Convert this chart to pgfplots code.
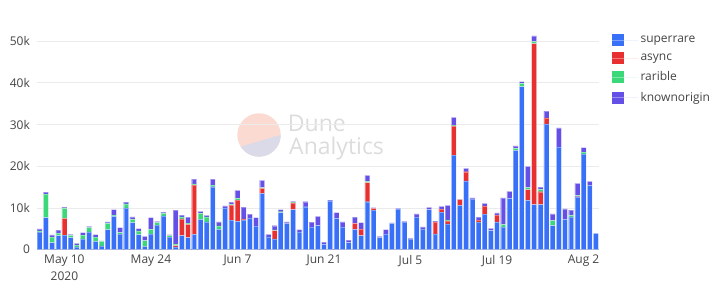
\documentclass[border=0pt]{standalone}
\usepackage{pgfplots}
\pgfplotsset{compat=1.18}
\usepackage{pgfplotstable}
\usepackage{fontspec}
\setmainfont{Open Sans}
\definecolor{csr}{HTML}{3870F8}
\definecolor{cas}{HTML}{E83030}
\definecolor{cra}{HTML}{3BD87A}
\definecolor{cko}{HTML}{6450E6}
\definecolor{tgray}{HTML}{444444}
\definecolor{ggray}{HTML}{EBEBEB}
\definecolor{wmpink}{HTML}{FBDAD2}
\definecolor{wmlav}{HTML}{DADAE8}
\definecolor{wmtext}{HTML}{DCDCDC}
\pgfplotstableread{
idx S A R K
0 4.2 0 0.3 0.5
1 7.7 0 5.6 0.5
2 1.7 0 1.3 0.55
3 3.4 0 0.6 0.7
4 3.5 4.0 2.4 0.3
5 2.9 0 0.55 0.25
6 0.7 0 0.4 0.4
7 2.6 0 0.9 0.6
8 4.3 0 1.0 0.3
9 2.0 0 1.0 0.6
10 0.9 0 1.1 0.1
11 4.8 0 1.5 0.4
12 8.0 0 0.3 1.3
13 3.8 0 0.3 1.2
14 10.0 0 1.0 0.4
15 6.5 0 0.8 0.55
16 3.6 0 0.9 0.55
17 0.8 0 1.4 1.0
18 3.8 0 1.1 2.8
19 5.9 0 0.6 0.3
20 8.1 0 0.6 0.3
21 3.0 0 0.4 0.2
22 0.7 0.3 0.4 8.1
23 3.4 4.0 0.5 0.4
24 2.9 3.2 0.3 1.4
25 3.7 11.8 0.3 1.1
26 7.3 0 1.4 0.5
27 6.7 0 1.2 0.3
28 15.1 0 0.4 1.4
29 4.9 0 0.8 1.0
30 10.0 0 0 0.5
31 7.1 3.6 0.15 0.55
32 6.8 5.1 0.4 1.9
33 7.1 0.3 0 2.8
34 7.6 0 0 0.9
35 5.7 0 0 2.0
36 13.5 1.2 0.2 1.7
37 3.1 0 0 0.6
38 2.6 2.0 0.15 1.0
39 8.9 0 0.2 0.5
40 6.3 0 0 0.4
41 9.6 1.6 0.2 0.2
42 4.3 0 0 0.5
43 10.3 0 0 1.2
44 5.5 0 0 1.1
45 5.8 0 0 2.2
46 1.3 0 0 0.5
47 11.7 0 0 0.2
48 7.5 0 0 1.4
49 5.4 0 0 1.3
50 1.7 0 0 0.6
51 4.9 1.4 0 1.5
52 3.4 1.6 0 1.5
53 11.5 4.6 0.3 1.4
54 9.5 0.4 0 0.2
55 2.9 0 0 0.3
56 3.8 0 0 1.0
57 6.3 0 0 0.15
58 9.7 0 0 0.2
59 6.6 0 0 0.2
60 2.6 0 0 0.1
61 7.8 0 0 0.8
62 5.0 0 0 0.5
63 9.6 0 0 0.55
64 3.8 2.9 0 0.15
65 9.0 0.7 0 0.7
66 6.2 0.7 0.25 3.5
67 22.7 7.0 0.15 1.9
68 10.6 1.4 0 0.15
69 16.5 2.2 0 0.8
70 12.1 0 0 0.3
71 6.6 0.5 0 0.7
72 8.5 2.0 0 0.6
73 4.6 0 0 0.5
74 6.7 1.6 0 0.55
75 5.5 0 0.5 6.4
76 12.3 0 0 1.7
77 23.8 0 0.5 0.6
78 39.1 0 0.8 0.4
79 11.8 2.6 0.5 5.1
80 10.8 38.6 0.5 1.4
81 10.8 3.1 0.55 0.55
82 30.2 1.4 0 1.6
83 5.8 0 1.2 1.6
84 24.6 0 0 4.6
85 7.3 0 0 2.5
86 7.9 0 0.3 1.3
87 12.7 0.15 0.15 2.9
88 23.0 0 0.4 1.1
89 15.4 0 0 1.0
90 3.9 0 0 0
}\data
\begin{document}
\begin{tikzpicture}[x=1pt,y=1pt]
\path[use as bounding box] (0,0) rectangle (728,296);
% watermark
\begin{scope}
\clip (259,161) circle (21.7);
\fill[wmpink] (230,130) rectangle (290,190);
\fill[wmlav] (230,146.4) -- (290,163.7) -- (290,130) -- (230,130) -- cycle;
\end{scope}
\node[anchor=base west, inner sep=0pt, text=wmtext, font=\fontsize{23}{26}\selectfont] at (287.7,164.3) {Dune};
\node[anchor=base west, inner sep=0pt, text=wmtext, font=\fontsize{23}{26}\selectfont] at (289,141) {Analytics};
\begin{axis}[
  at={(36.6pt,46.3pt)}, anchor=south west,
  scale only axis, width=562.4pt, height=225.2pt,
  ybar stacked, bar width=0.8,
  xmin=-0.5, xmax=90.5, ymin=0, ymax=54,
  axis line style={draw=none},
  axis x line*=bottom,
  ytick={0,10,20,30,40,50},
  yticklabels={0,10k,20k,30k,40k,50k},
  xtick={4,18,32,46,60,74,88},
  xticklabels={{May 10\\2020},May 24,Jun 7,Jun 21,Jul 5,Jul 19,Aug 2},
  major tick length=0pt,
  ymajorgrids, grid style={ggray, line width=0.8pt},
  tick label style={font=\fontsize{12}{17}\selectfont, text=tgray},
  yticklabel style={anchor=east, inner sep=0pt, xshift=-6.5pt},
  xticklabel style={anchor=north, inner sep=0pt, yshift=-5pt, align=center},
  legend style={at={(1.023,0.958)}, anchor=north west, draw=none, fill=none,
    font=\fontsize{12}{14}\selectfont, text=tgray, inner sep=0pt,
    row sep=5.8pt, cells={anchor=west}},
  legend image code/.code={\path[#1,draw=none] (0pt,-6pt) rectangle (12pt,6pt); \path (0pt,0pt) -- (26pt,0pt);},
  every axis plot/.append style={draw=white, draw opacity=0.35, line width=0.4pt},
]
\addplot[fill=csr] table[x=idx,y=S] {\data};
\addplot[fill=cas] table[x=idx,y=A] {\data};
\addplot[fill=cra] table[x=idx,y=R] {\data};
\addplot[fill=cko] table[x=idx,y=K] {\data};
\legend{superrare,async,rarible,knownorigin}
\draw[gray!70, line width=0.8pt] (axis cs:-0.5,0) -- (axis cs:90.5,0);
\end{axis}
\end{tikzpicture}
\end{document}
